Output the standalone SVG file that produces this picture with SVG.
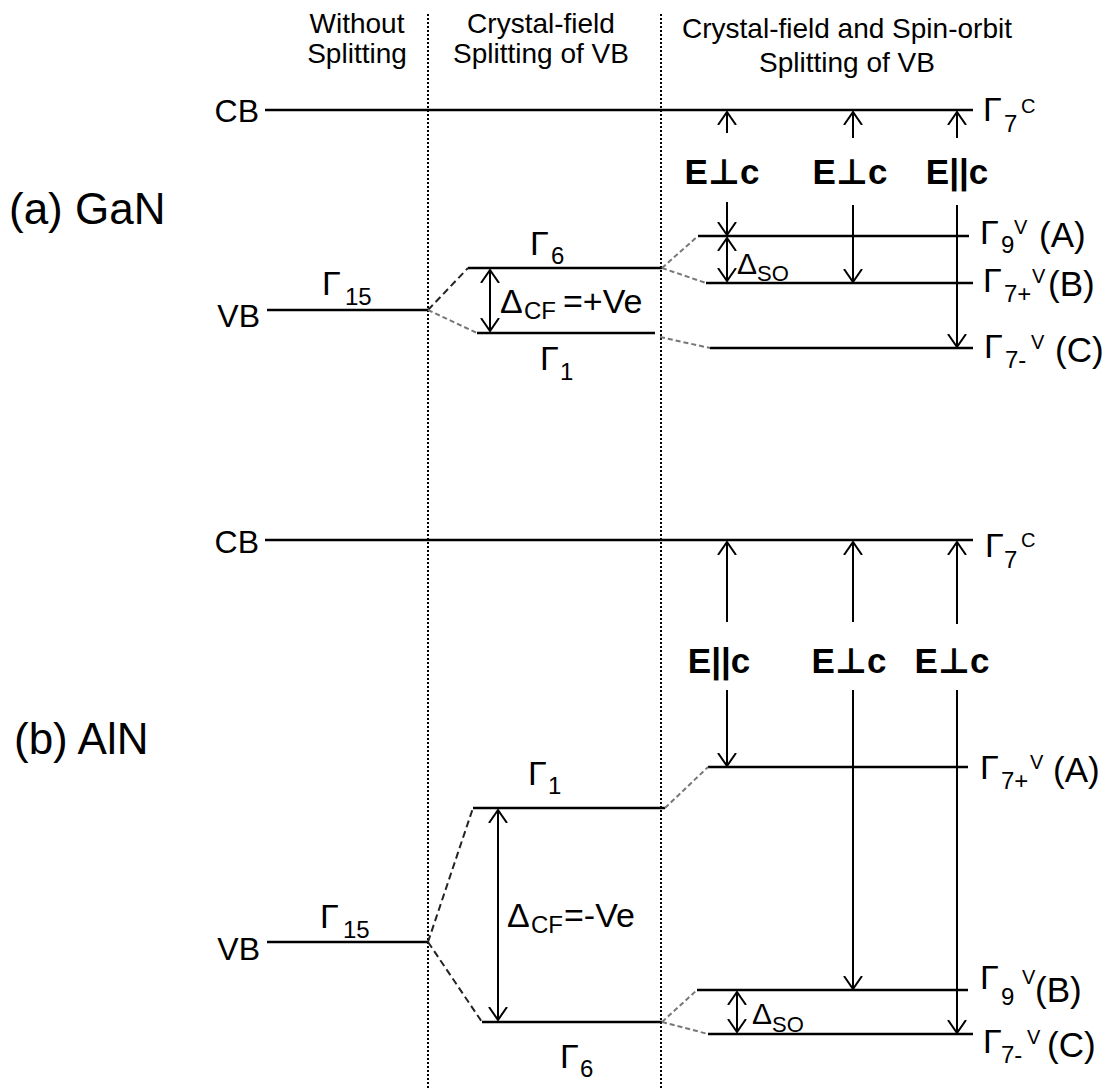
<svg xmlns="http://www.w3.org/2000/svg" width="1114" height="1089" viewBox="0 0 1114 1089">
<style>
.t{font-family:"Liberation Sans",Arial,"DejaVu Sans",sans-serif;fill:#000}
.h{font-size:28px}
.ttl{font-size:44px}
.bnd{font-size:32px}
.g{font-size:34px}
.sb{font-size:24px}
.sp{font-size:20px}
.par{font-size:35px}
.e{font-size:35px;font-weight:bold}
.lvl{stroke:#000;stroke-width:2.5;fill:none}
.dot{stroke:#000;stroke-width:2;stroke-dasharray:2 2;fill:none}
.dash{stroke:#222;stroke-width:2;stroke-dasharray:7 4;fill:none}
.dashg{stroke:#777;stroke-width:2;stroke-dasharray:5 3;fill:none}
.arr{stroke:#000;stroke-width:2;fill:none}
</style>
<defs>
<marker id="ah" viewBox="0 0 14 20" refX="13" refY="10" markerWidth="14" markerHeight="20" markerUnits="userSpaceOnUse" orient="auto-start-reverse">
<path d="M0,1 L13,10 L0,19" fill="none" stroke="#000" stroke-width="2"/>
</marker>
</defs>
<rect width="1114" height="1089" fill="#fff"/>

<g id="headers">
<text class="t h" x="357" y="33" text-anchor="middle">Without</text>
<text class="t h" x="357" y="63" text-anchor="middle">Splitting</text>
<text class="t h" x="541" y="33" text-anchor="middle">Crystal-field</text>
<text class="t h" x="541" y="63" text-anchor="middle">Splitting of VB</text>
<text class="t h" x="847" y="38" text-anchor="middle">Crystal-field and Spin-orbit</text>
<text class="t h" x="847" y="72" text-anchor="middle">Splitting of VB</text>
</g>

<g id="dividers">
<line class="dot" x1="428" y1="14" x2="428" y2="1089"/>
<line class="dot" x1="661" y1="14" x2="661" y2="1089"/>
</g>

<g id="title-gan"><text class="t ttl" x="9" y="224">(a) GaN</text></g>
<g id="title-aln"><text class="t ttl" x="14" y="754">(b) AlN</text></g>

<!-- GaN levels -->
<g id="gan-cb">
<line class="lvl" x1="265" y1="110" x2="973" y2="110"/>
<text class="t bnd" x="259" y="122" text-anchor="end">CB</text>
<text class="t"><tspan class="g" x="983" y="121">Γ</tspan><tspan class="sb" x="1004" y="132">7</tspan><tspan class="sp" x="1021" y="113">C</tspan></text>
</g>
<g id="gan-vb">
<line class="lvl" x1="267" y1="310" x2="428" y2="310"/>
<text class="t bnd" x="260" y="327" text-anchor="end">VB</text>
<text class="t"><tspan class="g" x="322" y="295">Γ</tspan><tspan class="sb" x="345" y="305">15</tspan></text>
</g>
<g id="gan-g6">
<line class="lvl" x1="468" y1="268" x2="662" y2="268"/>
<text class="t"><tspan class="g" x="530" y="255">Γ</tspan><tspan class="sb" x="551" y="264">6</tspan></text>
</g>
<g id="gan-g1">
<line class="lvl" x1="477" y1="333" x2="655" y2="333"/>
<text class="t"><tspan class="g" x="540" y="370">Γ</tspan><tspan class="sb" x="560" y="380">1</tspan></text>
</g>
<g id="gan-dcf">
<text class="t"><tspan class="g" x="500" y="313">Δ</tspan><tspan class="sb" x="524" y="319">CF</tspan><tspan class="g" x="563" y="313">=+Ve</tspan></text>
</g>
<g id="gan-a">
<line class="lvl" x1="698" y1="236" x2="969" y2="236"/>
<text class="t"><tspan class="g" x="980" y="244">Γ</tspan><tspan class="sb" x="1001" y="253">9</tspan><tspan class="sp" x="1014" y="234">V</tspan><tspan class="par" x="1039" y="247">(A)</tspan></text>
</g>
<g id="gan-b">
<line class="lvl" x1="706" y1="283" x2="973" y2="283"/>
<text class="t"><tspan class="g" x="983" y="292">Γ</tspan><tspan class="sb" x="1004" y="302">7+</tspan><tspan class="sp" x="1032" y="283">V</tspan><tspan class="par" x="1048" y="296">(B)</tspan></text>
</g>
<g id="gan-c">
<line class="lvl" x1="710" y1="348" x2="973" y2="348"/>
<text class="t"><tspan class="g" x="984" y="358">Γ</tspan><tspan class="sb" x="1005" y="368">7-</tspan><tspan class="sp" x="1031" y="349">V</tspan><tspan class="par" x="1055" y="362">(C)</tspan></text>
</g>
<g id="gan-dso">
<text class="t"><tspan style="font-size:30px" x="737" y="274">Δ</tspan><tspan style="font-size:22px" x="757" y="281">SO</tspan></text>
</g>
<g id="gan-pol">
<text class="t e" x="722" y="184" text-anchor="middle">E⊥c</text>
<text class="t e" x="850" y="184" text-anchor="middle">E⊥c</text>
<text class="t e" x="957" y="184" text-anchor="middle">E||c</text>
</g>

<!-- AlN levels -->
<g id="aln-cb">
<line class="lvl" x1="265" y1="540" x2="973" y2="540"/>
<text class="t bnd" x="259" y="553" text-anchor="end">CB</text>
<text class="t"><tspan class="g" x="985" y="557">Γ</tspan><tspan class="sb" x="1004" y="568">7</tspan><tspan class="sp" x="1021" y="547">C</tspan></text>
</g>
<g id="aln-vb">
<line class="lvl" x1="267" y1="942" x2="428" y2="942"/>
<text class="t bnd" x="260" y="960" text-anchor="end">VB</text>
<text class="t"><tspan class="g" x="320" y="928">Γ</tspan><tspan class="sb" x="343" y="938">15</tspan></text>
</g>
<g id="aln-g1">
<line class="lvl" x1="473" y1="808" x2="665" y2="808"/>
<text class="t"><tspan class="g" x="528" y="785">Γ</tspan><tspan class="sb" x="548" y="794">1</tspan></text>
</g>
<g id="aln-g6">
<line class="lvl" x1="482" y1="1022" x2="662" y2="1022"/>
<text class="t"><tspan class="g" x="560" y="1068">Γ</tspan><tspan class="sb" x="580" y="1077">6</tspan></text>
</g>
<g id="aln-dcf">
<text class="t"><tspan class="g" x="507" y="927">Δ</tspan><tspan class="sb" x="531" y="933">CF</tspan><tspan class="g" x="564" y="927">=-Ve</tspan></text>
</g>
<g id="aln-a">
<line class="lvl" x1="708" y1="767" x2="968" y2="767"/>
<text class="t"><tspan class="g" x="980" y="779">Γ</tspan><tspan class="sb" x="1001" y="789">7+</tspan><tspan class="sp" x="1030" y="769">V</tspan><tspan class="par" x="1053" y="782">(A)</tspan></text>
</g>
<g id="aln-b">
<line class="lvl" x1="697" y1="990" x2="968" y2="990"/>
<text class="t"><tspan class="g" x="980" y="989">Γ</tspan><tspan class="sb" x="1001" y="1005">9</tspan><tspan class="sp" x="1022" y="984">V</tspan><tspan class="par" x="1035" y="1002">(B)</tspan></text>
</g>
<g id="aln-c">
<line class="lvl" x1="708" y1="1034" x2="973" y2="1034"/>
<text class="t"><tspan class="g" x="983" y="1053">Γ</tspan><tspan class="sb" x="1001" y="1063">7-</tspan><tspan class="sp" x="1027" y="1044">V</tspan><tspan class="par" x="1047" y="1057">(C)</tspan></text>
</g>
<g id="aln-dso">
<text class="t"><tspan style="font-size:30px" x="752" y="1024">Δ</tspan><tspan style="font-size:22px" x="772" y="1032">SO</tspan></text>
</g>
<g id="aln-pol">
<text class="t e" x="719" y="673" text-anchor="middle">E||c</text>
<text class="t e" x="849" y="673" text-anchor="middle">E⊥c</text>
<text class="t e" x="952" y="673" text-anchor="middle">E⊥c</text>
</g>

<g id="connectors">
<!-- GaN splitting dashes -->
<line class="dash" x1="428" y1="310" x2="468" y2="268"/>
<line class="dashg" x1="428" y1="310" x2="477" y2="333"/>
<line class="dashg" x1="662" y1="268" x2="698" y2="236"/>
<line class="dashg" x1="662" y1="268" x2="706" y2="283"/>
<line class="dashg" x1="660" y1="337" x2="710" y2="348"/>
<!-- GaN arrows -->
<line class="arr" x1="490" y1="270" x2="490" y2="331" marker-start="url(#ah)" marker-end="url(#ah)"/>
<line class="arr" x1="727" y1="238" x2="727" y2="281" marker-start="url(#ah)" marker-end="url(#ah)"/>
<line class="arr" x1="727" y1="133" x2="727" y2="112" marker-end="url(#ah)"/>
<line class="arr" x1="853" y1="138" x2="853" y2="112" marker-end="url(#ah)"/>
<line class="arr" x1="957" y1="138" x2="957" y2="112" marker-end="url(#ah)"/>
<line class="arr" x1="727" y1="202" x2="727" y2="235" marker-end="url(#ah)"/>
<line class="arr" x1="853" y1="205" x2="853" y2="282" marker-end="url(#ah)"/>
<line class="arr" x1="957" y1="205" x2="957" y2="347" marker-end="url(#ah)"/>
<!-- AlN splitting dashes -->
<line class="dash" x1="428" y1="942" x2="473" y2="808"/>
<line class="dash" x1="428" y1="942" x2="482" y2="1022"/>
<line class="dashg" x1="665" y1="808" x2="708" y2="767"/>
<line class="dashg" x1="662" y1="1022" x2="697" y2="990"/>
<line class="dashg" x1="662" y1="1022" x2="708" y2="1034"/>
<!-- AlN arrows -->
<line class="arr" x1="498" y1="810" x2="498" y2="1020" marker-start="url(#ah)" marker-end="url(#ah)"/>
<line class="arr" x1="737" y1="992" x2="737" y2="1032" marker-start="url(#ah)" marker-end="url(#ah)"/>
<line class="arr" x1="727" y1="622" x2="727" y2="542" marker-end="url(#ah)"/>
<line class="arr" x1="853" y1="622" x2="853" y2="542" marker-end="url(#ah)"/>
<line class="arr" x1="957" y1="624" x2="957" y2="542" marker-end="url(#ah)"/>
<line class="arr" x1="727" y1="690" x2="727" y2="766" marker-end="url(#ah)"/>
<line class="arr" x1="853" y1="690" x2="853" y2="989" marker-end="url(#ah)"/>
<line class="arr" x1="957" y1="690" x2="957" y2="1033" marker-end="url(#ah)"/>
</g>
</svg>
